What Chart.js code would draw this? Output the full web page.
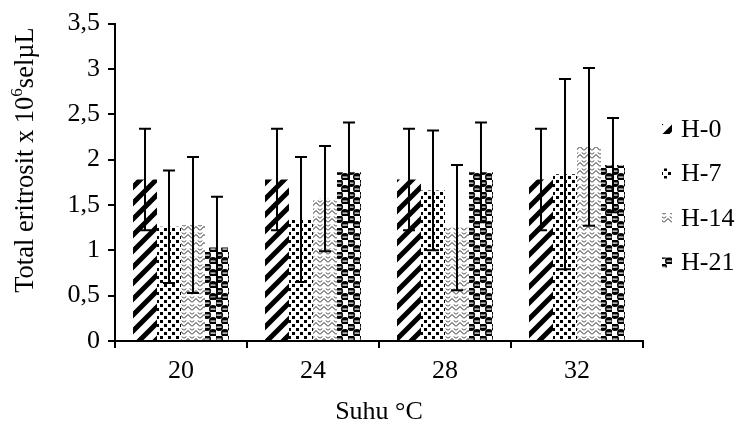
<!DOCTYPE html>
<html>
<head>
<meta charset="utf-8">
<script src="https://cdn.jsdelivr.net/npm/chart.js@4/dist/chart.umd.min.js"></script>
<style>
  html, body { margin: 0; padding: 0; background: #fff; }
  #wrap { width: 737px; height: 434px; }
</style>
</head>
<body>
<div id="wrap"><canvas id="chart" width="737" height="434"></canvas></div>
<script>
// Data
const categories = ['20', '24', '28', '32'];
const seriesNames = ['H-0', 'H-7', 'H-14', 'H-21'];
const h0 = [1.78, 1.78, 1.78, 1.78];
const h7 = [1.26, 1.34, 1.66, 1.84];
const h14 = [1.28, 1.57, 1.25, 2.14];
const h21 = [1.03, 1.86, 1.86, 1.94];
const h0Err = [0.56, 0.56, 0.56, 0.56];
const h7Err = [0.62, 0.69, 0.66, 1.05];
const h14Err = [0.75, 0.58, 0.69, 0.87];
const h21Err = [0.56, 0.55, 0.55, 0.52];
const yTickLabels = ['0', '0,5', '1', '1,5', '2', '2,5', '3', '3,5'];

const FONT = 'Liberation Serif';
const FS = 26;

// Small tiles used as bar fills
function makePattern(size, draw) {
    const c = document.createElement('canvas');
    c.width = size;
    c.height = size;
    const g = c.getContext('2d');
    g.fillStyle = '#fff';
    g.fillRect(0, 0, size, size);
    g.fillStyle = '#000';
    g.strokeStyle = '#000';
    draw(g, size);
    return c.getContext('2d').createPattern(c, 'repeat');
}

const stripes = makePattern(16, (g, s) => {
    g.lineWidth = 5;
    g.lineCap = 'square';
    g.beginPath();
    g.moveTo(-4, s + 4); g.lineTo(s + 4, -4);
    g.moveTo(-4, 4); g.lineTo(4, -4);
    g.moveTo(s - 4, s + 4); g.lineTo(s + 4, s - 4);
    g.stroke();
});

const dots = makePattern(8, (g) => {
    g.fillRect(0, 0, 3, 3);
    g.fillRect(4, 4, 3, 3);
});

const zigzag = makePattern(8, (g) => {
    g.lineWidth = 1;
    g.strokeStyle = '#222';
    g.beginPath();
    g.moveTo(0, 6.5); g.lineTo(4, 2.5); g.lineTo(8, 6.5);
    g.moveTo(0, 2.5); g.lineTo(2, 0.5);
    g.moveTo(6, 0.5); g.lineTo(8, 2.5);
    g.stroke();
});

const balls = makePattern(12, (g) => {
    g.beginPath();
    g.arc(3, 3, 4, 0, Math.PI * 2);
    g.arc(9, 9, 4, 0, Math.PI * 2);
    g.fill();
    g.fillStyle = '#fff';
    g.fillRect(0.5, 2.5, 5, 1.2);
    g.fillRect(6.5, 8.5, 5, 1.2);
});

const fills = [stripes, dots, zigzag, balls];
const values = [h0, h7, h14, h21];
const errors = [h0Err, h7Err, h14Err, h21Err];

// Error bars drawn through the y scale
const errorBars = {
    id: 'errorBars',
    afterDatasetsDraw(chart) {
        const ctx = chart.ctx;
        const y = chart.scales.y;
        ctx.save();
        ctx.strokeStyle = '#000';
        ctx.lineWidth = 2;
        chart.data.datasets.forEach((ds, i) => {
            const meta = chart.getDatasetMeta(i);
            meta.data.forEach((bar, j) => {
                const v = ds.data[j];
                const e = errors[i][j];
                const top = y.getPixelForValue(v + e);
                const bot = y.getPixelForValue(v - e);
                ctx.beginPath();
                ctx.moveTo(bar.x, top); ctx.lineTo(bar.x, bot);
                ctx.moveTo(bar.x - 6, top); ctx.lineTo(bar.x + 6, top);
                ctx.moveTo(bar.x - 6, bot); ctx.lineTo(bar.x + 6, bot);
                ctx.stroke();
            });
        });
        ctx.restore();
    }
};

// Legend on the right and the rotated y title
const extras = {
    id: 'extras',
    afterDraw(chart) {
        const ctx = chart.ctx;
        ctx.save();
        ctx.font = FS + 'px "' + FONT + '"';
        ctx.textBaseline = 'middle';
        ctx.textAlign = 'left';
        chart.data.datasets.forEach((ds, i) => {
            const cy = 130 + i * 44.5;
            ctx.fillStyle = ds.backgroundColor;
            ctx.fillRect(662, cy - 6, 10, 10);
            ctx.fillStyle = '#000';
            ctx.fillText(ds.label, 681, cy);
        });

        // y title with superscript
        ctx.translate(24, 160);
        ctx.rotate(-Math.PI / 2);
        const a = 'Total eritrosit x 10';
        const sup = '6';
        const b = 'selµL';
        const big = '26.5px "' + FONT + '"';
        const small = '17px "' + FONT + '"';
        ctx.font = big;
        const wa = ctx.measureText(a).width;
        const wb = ctx.measureText(b).width;
        ctx.font = small;
        const ws = ctx.measureText(sup).width;
        let x = -(wa + ws + wb) / 2;
        ctx.textBaseline = 'alphabetic';
        ctx.fillStyle = '#000';
        ctx.font = big;
        ctx.fillText(a, x, 9);
        x += wa;
        ctx.font = small;
        ctx.fillText(sup, x, -2);
        x += ws;
        ctx.font = big;
        ctx.fillText(b, x, 9);
        ctx.restore();
    }
};

new Chart(document.getElementById('chart'), {
    type: 'bar',
    data: {
        labels: categories,
        datasets: seriesNames.map((name, i) => ({
            label: name,
            data: values[i],
            backgroundColor: fills[i],
            borderWidth: 0,
            categoryPercentage: 0.727,
            barPercentage: 1.0
        }))
    },
    options: {
        responsive: false,
        animation: false,
        devicePixelRatio: 1,
        layout: { padding: { top: 20, right: 94, left: 0, bottom: 0 } },
        plugins: {
            legend: { display: false },
            tooltip: { enabled: false }
        },
        scales: {
            x: {
                afterFit: (s) => { s.height = 93; },
                grid: { drawOnChartArea: false, tickLength: 7, color: '#000', lineWidth: 2 },
                border: { color: '#000', width: 2 },
                ticks: { color: '#000', padding: 8, font: { family: FONT, size: FS } },
                title: {
                    display: true,
                    text: 'Suhu °C',
                    color: '#000',
                    font: { family: FONT, size: FS },
                    padding: { top: 0, bottom: 6 }
                }
            },
            y: {
                min: 0,
                max: 3.5,
                afterFit: (s) => { s.width = 115; },
                grid: { drawOnChartArea: false, tickLength: 7, color: '#000', lineWidth: 2 },
                border: { color: '#000', width: 2 },
                ticks: {
                    stepSize: 0.5,
                    color: '#000',
                    padding: 8,
                    font: { family: FONT, size: FS },
                    callback: (v, i) => yTickLabels[i]
                }
            }
        }
    },
    plugins: [errorBars, extras]
});
</script>
</body>
</html>
